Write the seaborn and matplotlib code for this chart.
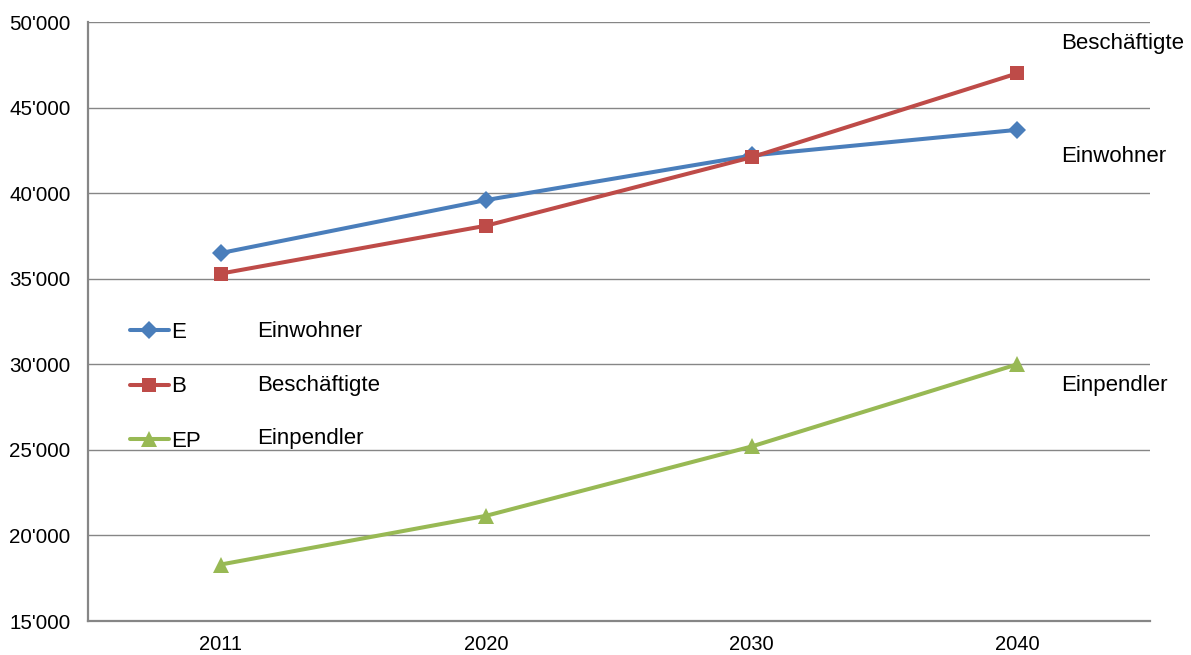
import matplotlib
matplotlib.use("Agg")
import matplotlib.pyplot as plt
import matplotlib.ticker as mticker
import seaborn as sns
import pandas as pd

years = ["2011", "2020", "2030", "2040"]
einwohner = [36500, 39600, 42200, 43700]
beschaeftigte = [35300, 38100, 42100, 47000]
einpendler = [18300, 21150, 25200, 30000]

codes = ["E", "B", "EP"]
names = ["Einwohner", "Beschäftigte", "Einpendler"]
colors = ["#4A7EBB", "#BE4B48", "#98B954"]
markers = ["D", "s", "^"]
msizes = [9, 10, 11]

sns.set_style("white")
plt.rcParams["font.family"] = ["Liberation Sans", "DejaVu Sans"]
plt.rcParams["font.size"] = 16
plt.rcParams["text.color"] = "black"
plt.rcParams["xtick.labelcolor"] = "black"
plt.rcParams["ytick.labelcolor"] = "black"

fig = plt.figure(figsize=(11.91, 6.55), dpi=100)
ax = fig.add_axes([0.0739, 0.0519, 0.8917, 0.9145])

series = [einwohner, beschaeftigte, einpendler]
for vals, code, col, mk, ms in zip(series, codes, colors, markers, msizes):
    df = pd.DataFrame({"Jahr": years, "Wert": vals})
    sns.lineplot(data=df, x="Jahr", y="Wert", ax=ax, color=col, marker=mk,
                 markersize=ms, markeredgewidth=0, linewidth=2.9, label=code)

ax.set_xlim(-0.5, 3.5)
ax.set_ylim(15000, 50000)
ax.yaxis.set_major_locator(mticker.MultipleLocator(5000))
ax.yaxis.set_major_formatter(mticker.FuncFormatter(lambda v, p: f"{int(v):,}".replace(",", "'")))
ax.set_xticks(range(len(years)))
ax.set_xticklabels(years)
ax.set_xticks([-0.5, 0.5, 1.5, 2.5, 3.5], minor=True)
ax.tick_params(axis="x", which="major", length=0, pad=10, labelsize=14.5)
ax.tick_params(axis="x", which="minor", length=5, width=1.2, color="#868686", direction="out")
ax.tick_params(axis="y", which="major", length=5, width=1.2, color="#868686", direction="out", pad=7.5, labelsize=14.8)
ax.set_xlabel("")
ax.set_ylabel("")
ax.grid(axis="y", color="#868686", linewidth=1)
ax.set_axisbelow(True)
for s in ["top", "right"]:
    ax.spines[s].set_visible(False)
for s in ["left", "bottom"]:
    ax.spines[s].set_color("#868686")
    ax.spines[s].set_linewidth(1.6)

leg = ax.legend(loc="upper left", bbox_to_anchor=(0.0395, 0.499), frameon=False,
                borderpad=0, borderaxespad=0, handlelength=1.75, handletextpad=0.12,
                labelspacing=1.5, fontsize=16)

for name, yy in zip(names, [0.484, 0.394, 0.304]):
    ax.text(0.159, yy, name, transform=ax.transAxes, fontsize=16, va="center", ha="left")

for name, yy in zip(names, [0.776, 0.964, 0.394]):
    ax.text(0.916, yy, name, transform=ax.transAxes, fontsize=16, va="center", ha="left", clip_on=False)

fig.savefig("out.png", dpi=100)
